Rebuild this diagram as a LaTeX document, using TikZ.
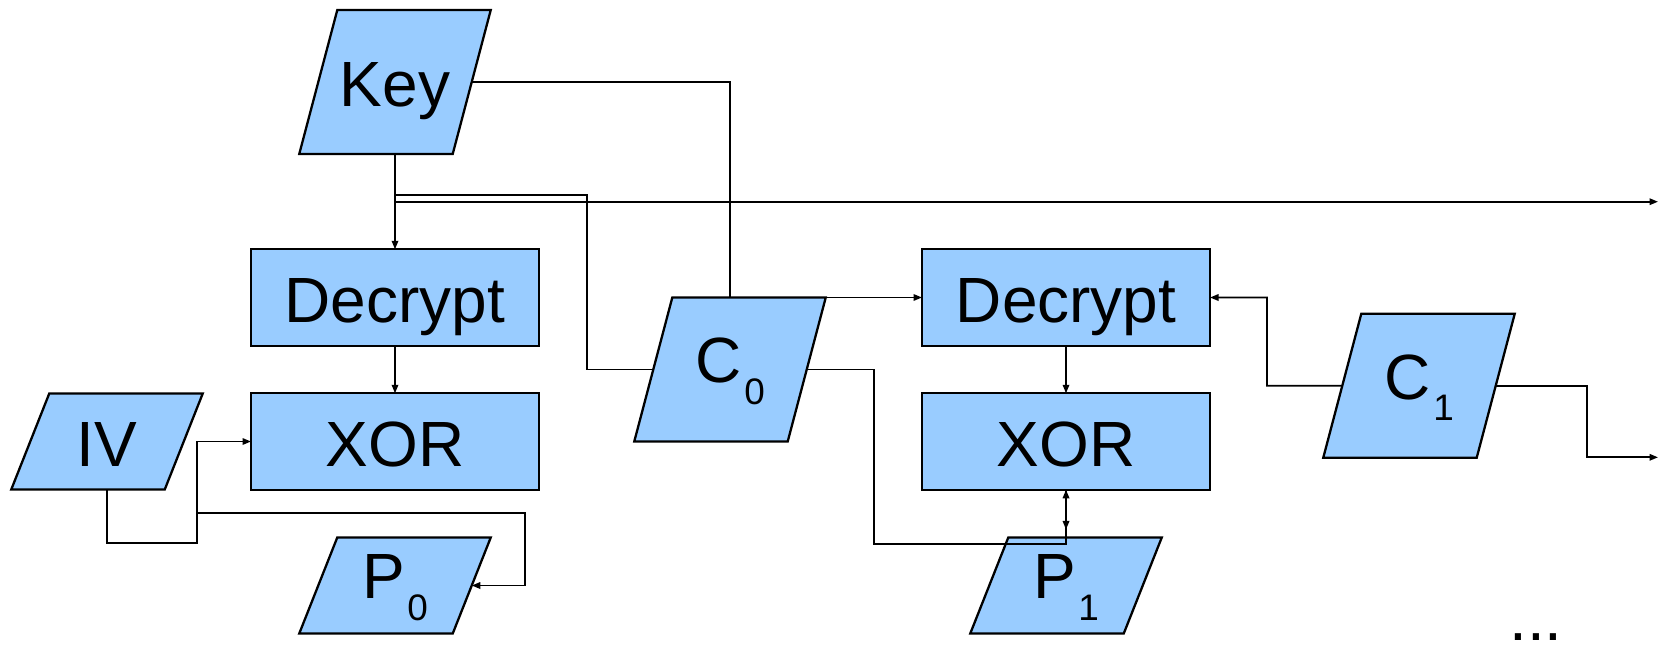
\documentclass[tikz,border=0pt]{standalone}
\usepackage{fontspec}
\setmainfont{Liberation Sans}
\usetikzlibrary{arrows, arrows.meta}
\usetikzlibrary{calc}
\usetikzlibrary{shapes.geometric}

\definecolor{boxblue}{RGB}{153,204,255}

\newcommand{\idxlabel}[2]{\raisebox{3.2pt}{#1\kern0.8pt\raisebox{-6.2pt}{\fontsize{10.5pt}{12pt}\selectfont #2}}}

\tikzset{
    big text/.style={font=\fontsize{18.2pt}{22pt}\selectfont},
    plain label/.style={text height=15pt, text depth=1pt},
    stage/.style={rectangle, draw, line width=0.65pt, fill=boxblue, big text, plain label, minimum width=2.88cm, minimum height=0.965cm, inner sep=0pt, outer sep=0pt},
    datum/.style={trapezium, trapezium stretches body, draw, line width=0.65pt, fill=boxblue, big text, plain label, minimum width=1.915cm, inner xsep=0pt, outer sep=0pt},
    datum tall/.style={datum, inner ysep=12.49pt, trapezium left angle=75.2, trapezium right angle=104.8},
    datum short/.style={datum, inner ysep=5.66pt, trapezium left angle=68.4, trapezium right angle=111.6},
    wire/.style={line width=0.48pt},
    feed/.style={wire, -{Triangle[length=0.085cm, width=0.065cm]}}
}

\begin{document}
\begin{tikzpicture}
    \useasboundingbox (0,0) rectangle (16.66,-6.46);

    \node[datum tall] (1) at (3.95,-0.82) {Key};
    \node[stage] (2) at (3.95,-2.975) {Decrypt};
    \node[stage] (3) at (3.95,-4.415) {XOR};
    \node[datum short] (4) at (1.07,-4.415) {IV};
    \node[datum short] (5) at (3.95,-5.855) {\idxlabel{P}{0}};
    \node[datum tall] (6) at (7.30,-3.695) {\idxlabel{C}{0}};
    \node[stage] (7) at (10.66,-2.975) {Decrypt};
    \node[stage] (8) at (10.66,-4.415) {XOR};
    \node[datum short] (9) at (10.66,-5.855) {\idxlabel{P}{1}};
    \node[datum tall] (10) at (14.19,-3.857) {\idxlabel{C}{1}};
    \node[big text, inner sep=0pt, anchor=base] (11) at (15.36,-6.40) {...};

    \coordinate (12) at (3.95,-1.95);
    \coordinate (13) at (5.87,-1.95);
    \coordinate (14) at (3.95,-2.017);
    \coordinate (15) at (16.58,-2.017);
    \coordinate (16) at (1.97,-5.43);
    \coordinate (17) at (1.97,-5.13);
    \coordinate (18) at (5.25,-5.13);
    \coordinate (19) at (8.74,-5.44);
    \coordinate (20) at (12.67,-3.857);
    \coordinate (21) at (15.87,-4.573);
    \coordinate (22) at (16.58,-4.573);

    \draw[feed] (1) -- (2);
    \draw[wire] (1.east) -| (6.north);
    \draw[wire] (12) -- (13) |- (6.west);
    \draw[feed] (14) -- (15);
    \draw[feed] (2) -- (3);
    \draw[feed] (4.south) |- (16) |- (3.west);
    \draw[feed] (17) -- (18) |- (5.east);
    \draw[feed] (6.top right corner) -- (6.top right corner -| 7.west);
    \draw[feed] (6.east) -| (19) -| (8.south);
    \draw[feed] (7) -- (8);
    \draw[feed, shorten >=0.08cm] (8) -- (9);
    \draw[feed] (10.west) -- (20) |- (7.east);
    \draw[feed] (10.east) -| (21) -- (22);
\end{tikzpicture}
\end{document}
